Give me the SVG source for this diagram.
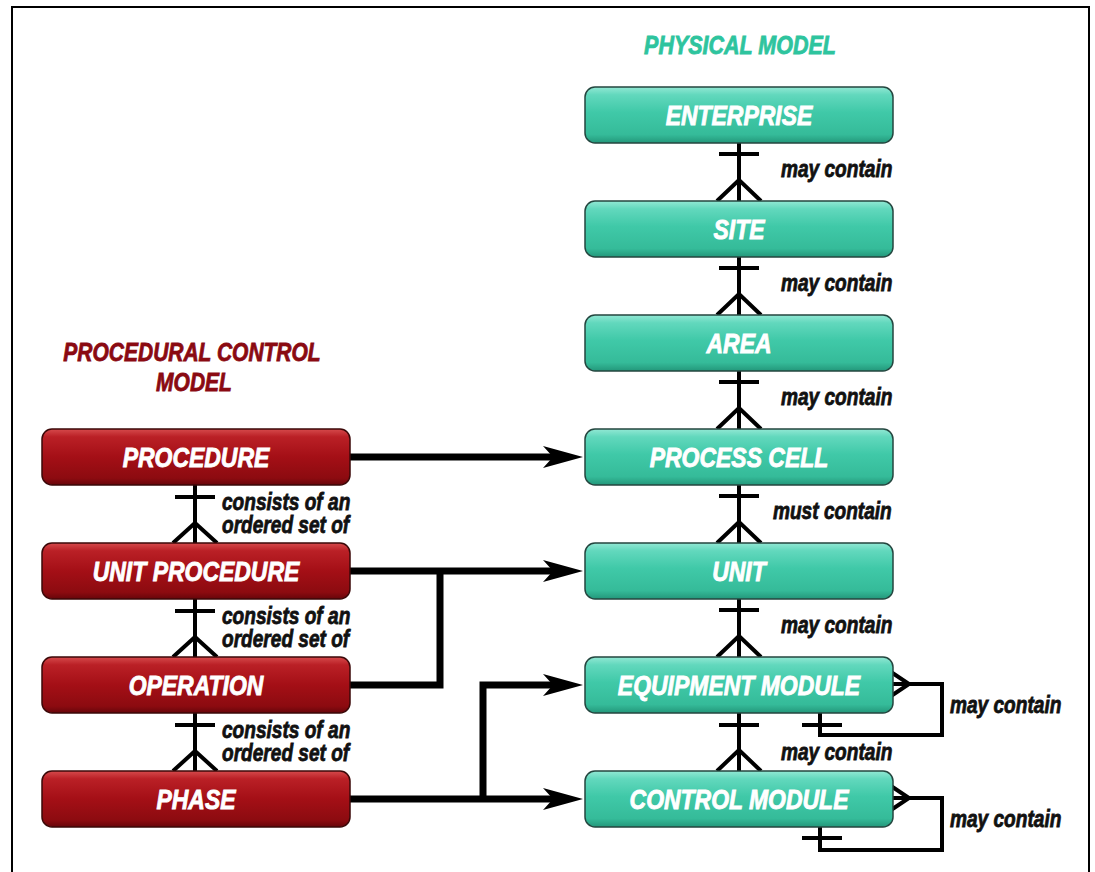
<svg xmlns="http://www.w3.org/2000/svg" width="1095" height="872" viewBox="0 0 1095 872">
  <defs>
    <linearGradient id="tealFill" x1="0" y1="0" x2="0" y2="1">
      <stop offset="0" stop-color="#92e8d4"/>
      <stop offset="0.14" stop-color="#62d8bd"/>
      <stop offset="0.45" stop-color="#40c9a8"/>
      <stop offset="0.85" stop-color="#35bb99"/>
      <stop offset="1" stop-color="#23977a"/>
    </linearGradient>
    <linearGradient id="redFill" x1="0" y1="0" x2="0" y2="1">
      <stop offset="0" stop-color="#d64a4c"/>
      <stop offset="0.14" stop-color="#ba2026"/>
      <stop offset="0.5" stop-color="#a40f16"/>
      <stop offset="0.88" stop-color="#8c0b10"/>
      <stop offset="1" stop-color="#67050a"/>
    </linearGradient>
    <marker id="arrow" markerUnits="userSpaceOnUse" markerWidth="42" markerHeight="26" refX="10" refY="13" orient="auto" viewBox="0 0 42 26">
      <path d="M0,2 L40,13 L0,24 L10,13 Z" fill="#000"/>
    </marker>
    <style>
      .teal { fill: url(#tealFill); stroke: #24463f; stroke-width: 1.5; }
      .red { fill: url(#redFill); stroke: #3b0808; stroke-width: 1.5; }
      .nodeText { font-family: "Liberation Sans", sans-serif; font-weight: bold; font-style: italic; font-size: 28px; fill: #ffffff; stroke: #ffffff; stroke-width: 0.9; text-anchor: middle; }
      .label { font-family: "Liberation Sans", sans-serif; font-weight: bold; font-style: italic; font-size: 23px; fill: #111111; stroke: #111111; stroke-width: 0.8; }
      .title { font-family: "Liberation Sans", sans-serif; font-weight: bold; font-style: italic; font-size: 25px; stroke-width: 0.8; text-anchor: middle; }
      .er { fill: none; stroke: #000; stroke-width: 4; stroke-linejoin: miter; }
      .flow { fill: none; stroke: #000; stroke-width: 7; stroke-linejoin: miter; }
    </style>
  </defs>

  <!-- page frame -->
  <rect x="12" y="7" width="1077" height="900" fill="#ffffff" stroke="#000" stroke-width="2"/>

  <!-- headings (condensed by horizontal scaling) -->
  <text class="title" transform="translate(740,54) scale(0.86,1)" fill="#2ec49e" stroke="#2ec49e">PHYSICAL MODEL</text>
  <text class="title" transform="translate(192,361) scale(0.84,1)" fill="#8a0a12" stroke="#8a0a12">PROCEDURAL CONTROL</text>
  <text class="title" transform="translate(194,391) scale(0.84,1)" fill="#8a0a12" stroke="#8a0a12">MODEL</text>

  <!-- connectors -->
  <g id="connectors">
    <!-- physical hierarchy: one-to-many links -->
    <g class="er">
      <path d="M739,143 V201 M719,154 H759 M717,201 L739,180 L761,201"/>
      <path d="M739,257 V315 M719,268 H759 M717,315 L739,294 L761,315"/>
      <path d="M739,371 V429 M719,382 H759 M717,429 L739,408 L761,429"/>
      <path d="M739,485 V543 M719,496 H759 M717,543 L739,522 L761,543"/>
      <path d="M739,599 V657 M719,610 H759 M717,657 L739,636 L761,657"/>
      <path d="M739,713 V771 M719,725 H759 M717,771 L739,750 L761,771"/>
      <!-- self-referencing loops -->
      <path d="M891,672 L909,684 L891,696 M893,684 H942 V735 H820 V713 M802,725 H842"/>
      <path d="M891,786 L909,798 L891,810 M893,798 H942 V850 H820 V827 M802,838 H842"/>
    </g>
    <!-- procedural hierarchy -->
    <g class="er">
      <path d="M195,485 V543 M175,497 H215 M173,543 L195,523 L217,543"/>
      <path d="M195,599 V657 M175,611 H215 M173,657 L195,637 L217,657"/>
      <path d="M195,713 V771 M175,725 H215 M173,771 L195,751 L217,771"/>
    </g>
    <!-- procedural to physical mapping -->
    <g class="flow">
      <path d="M350,457 H553" marker-end="url(#arrow)"/>
      <path d="M350,571 H553" marker-end="url(#arrow)"/>
      <path d="M350,685 H440 V571"/>
      <path d="M350,799 H553" marker-end="url(#arrow)"/>
      <path d="M483,799 V685 H553" marker-end="url(#arrow)"/>
    </g>
  </g>

  <!-- connector labels -->
  <g id="labels">
    <text class="label" transform="translate(781,177) scale(0.83,1)">may contain</text>
    <text class="label" transform="translate(781,291) scale(0.83,1)">may contain</text>
    <text class="label" transform="translate(781,405) scale(0.83,1)">may contain</text>
    <text class="label" transform="translate(773,519) scale(0.83,1)">must contain</text>
    <text class="label" transform="translate(781,633) scale(0.83,1)">may contain</text>
    <text class="label" transform="translate(781,760) scale(0.83,1)">may contain</text>
    <text class="label" transform="translate(950,713) scale(0.83,1)">may contain</text>
    <text class="label" transform="translate(950,827) scale(0.83,1)">may contain</text>
    <text class="label" transform="translate(222,510) scale(0.83,1)">consists of an</text>
    <text class="label" transform="translate(222,533) scale(0.83,1)">ordered set of</text>
    <text class="label" transform="translate(222,624) scale(0.83,1)">consists of an</text>
    <text class="label" transform="translate(222,647) scale(0.83,1)">ordered set of</text>
    <text class="label" transform="translate(222,738) scale(0.83,1)">consists of an</text>
    <text class="label" transform="translate(222,761) scale(0.83,1)">ordered set of</text>
  </g>

  <!-- physical model nodes -->
  <g id="enterprise"><rect class="teal" x="585" y="87" width="308" height="56" rx="10"/><text class="nodeText" transform="translate(739,125) scale(0.82,1)">ENTERPRISE</text></g>
  <g id="site"><rect class="teal" x="585" y="201" width="308" height="56" rx="10"/><text class="nodeText" transform="translate(739,239) scale(0.82,1)">SITE</text></g>
  <g id="area"><rect class="teal" x="585" y="315" width="308" height="56" rx="10"/><text class="nodeText" transform="translate(739,353) scale(0.82,1)">AREA</text></g>
  <g id="process-cell"><rect class="teal" x="585" y="429" width="308" height="56" rx="10"/><text class="nodeText" transform="translate(739,467) scale(0.82,1)">PROCESS CELL</text></g>
  <g id="unit"><rect class="teal" x="585" y="543" width="308" height="56" rx="10"/><text class="nodeText" transform="translate(739,581) scale(0.82,1)">UNIT</text></g>
  <g id="equipment-module"><rect class="teal" x="585" y="657" width="308" height="56" rx="10"/><text class="nodeText" transform="translate(739,695) scale(0.82,1)">EQUIPMENT MODULE</text></g>
  <g id="control-module"><rect class="teal" x="585" y="771" width="308" height="56" rx="10"/><text class="nodeText" transform="translate(739,809) scale(0.82,1)">CONTROL MODULE</text></g>

  <!-- procedural control model nodes -->
  <g id="procedure"><rect class="red" x="42" y="429" width="308" height="56" rx="10"/><text class="nodeText" transform="translate(196,467) scale(0.82,1)">PROCEDURE</text></g>
  <g id="unit-procedure"><rect class="red" x="42" y="543" width="308" height="56" rx="10"/><text class="nodeText" transform="translate(196,581) scale(0.82,1)">UNIT PROCEDURE</text></g>
  <g id="operation"><rect class="red" x="42" y="657" width="308" height="56" rx="10"/><text class="nodeText" transform="translate(196,695) scale(0.82,1)">OPERATION</text></g>
  <g id="phase"><rect class="red" x="42" y="771" width="308" height="56" rx="10"/><text class="nodeText" transform="translate(196,809) scale(0.82,1)">PHASE</text></g>
</svg>
